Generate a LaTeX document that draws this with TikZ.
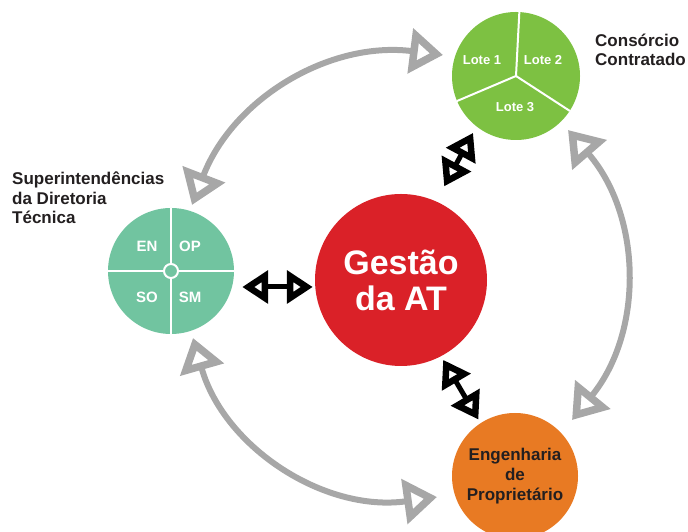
\documentclass[tikz,border=0pt]{standalone}
\usepackage{fontspec}
\setmainfont{Liberation Sans}
\usetikzlibrary{arrows.meta}

\definecolor{supteal}{HTML}{71C4A0}
\definecolor{lotegreen}{HTML}{7DC142}
\definecolor{gestred}{HTML}{DA2128}
\definecolor{engorange}{HTML}{E87A23}
\definecolor{arcgray}{HTML}{A7A7A7}
\definecolor{darktext}{HTML}{231F20}

\begin{document}
\begin{tikzpicture}[x=1pt, y=1pt,
    disc/.style={circle, inner sep=0pt},
    divider/.style={draw=white, line width=2pt},
    quadtext/.style={text=white, font=\bfseries\fontsize{15}{15}\selectfont},
    lotetext/.style={text=white, font=\bfseries\fontsize{13}{13}\selectfont},
    sidetext/.style={text=darktext, align=left, anchor=west, inner sep=0pt,
      font=\bfseries\fontsize{17}{19.5}\selectfont},
    grayarrow/.style={draw=arcgray, line width=6pt,
      {Triangle[open,length=33pt,width=44pt,line width=7.5pt 0]}-{Triangle[open,length=33pt,width=44pt,line width=7.5pt 0]}},
    blackarrow/.style={draw=black, line width=5pt,
      {Triangle[open,length=26pt,width=32pt,line width=9pt 0]}-{Triangle[open,length=26pt,width=32pt,line width=9pt 0]}}]
  \useasboundingbox (0, 0) rectangle (688, 532);

  \node[disc, fill=supteal, minimum size=126pt] (sup) at (171, 261) {};
  \node[disc, fill=lotegreen, minimum size=128pt] (lotes) at (516, 456) {};
  \node[disc, fill=gestred, minimum size=172pt, text=white, align=center,
    font=\bfseries\fontsize{34}{36}\selectfont] (gestao) at (401, 252) {Gestão\\da AT};
  \node[disc, fill=engorange, minimum size=126pt, text=darktext, align=center,
    font=\bfseries\fontsize{17}{20}\selectfont] (eng) at (515, 56) {Engenharia\\de\\Proprietário};

  \draw[divider] (sup.north) -- (sup.south);
  \draw[divider] (sup.west) -- (sup.east);
  \node[disc, draw=white, line width=2pt, fill=supteal, minimum size=14pt] (hub) at (sup) {};
  \node[quadtext] (en) at (147, 286) {EN};
  \node[quadtext] (op) at (190, 286) {OP};
  \node[quadtext] (so) at (147, 235) {SO};
  \node[quadtext] (sm) at (190, 235) {SM};

  \draw[divider] (lotes.center) -- (lotes.87);
  \draw[divider] (lotes.center) -- (lotes.203);
  \draw[divider] (lotes.center) -- (lotes.327);
  \node[lotetext] (lote1) at (482, 472) {Lote 1};
  \node[lotetext] (lote2) at (543, 472) {Lote 2};
  \node[lotetext] (lote3) at (515, 425) {Lote 3};

  \node[sidetext] (suptitle) at (12, 334) {Superintendências\\da Diretoria\\Técnica};
  \node[sidetext] (constitle) at (595, 482) {Consórcio\\Contratado};

  \coordinate (t1) at (192, 327);
  \coordinate (t2) at (443, 477);
  \coordinate (r1) at (568, 402);
  \coordinate (r2) at (572, 112);
  \coordinate (b1) at (437, 35);
  \coordinate (b2) at (193, 194);
  \draw[grayarrow] (t1) to[bend left=38] (t2);
  \draw[grayarrow] (r1) to[bend left=40] (r2);
  \draw[grayarrow] (b1) to[bend left=41] (b2);

  \draw[blackarrow, shorten <=8pt, shorten >=2pt]
    ([yshift=-16pt]sup.east) -- ([yshift=-7pt]gestao.west);
  \draw[blackarrow, shorten <=17pt, shorten >=6pt]
    ([xshift=-8pt,yshift=4pt]gestao.60) -- ([xshift=-8pt,yshift=4pt]lotes.-120);
  \draw[blackarrow, shorten <=6pt, shorten >=2pt]
    ([xshift=-4pt]gestao.-60) -- ([xshift=-4pt]eng.120);
\end{tikzpicture}
\end{document}
